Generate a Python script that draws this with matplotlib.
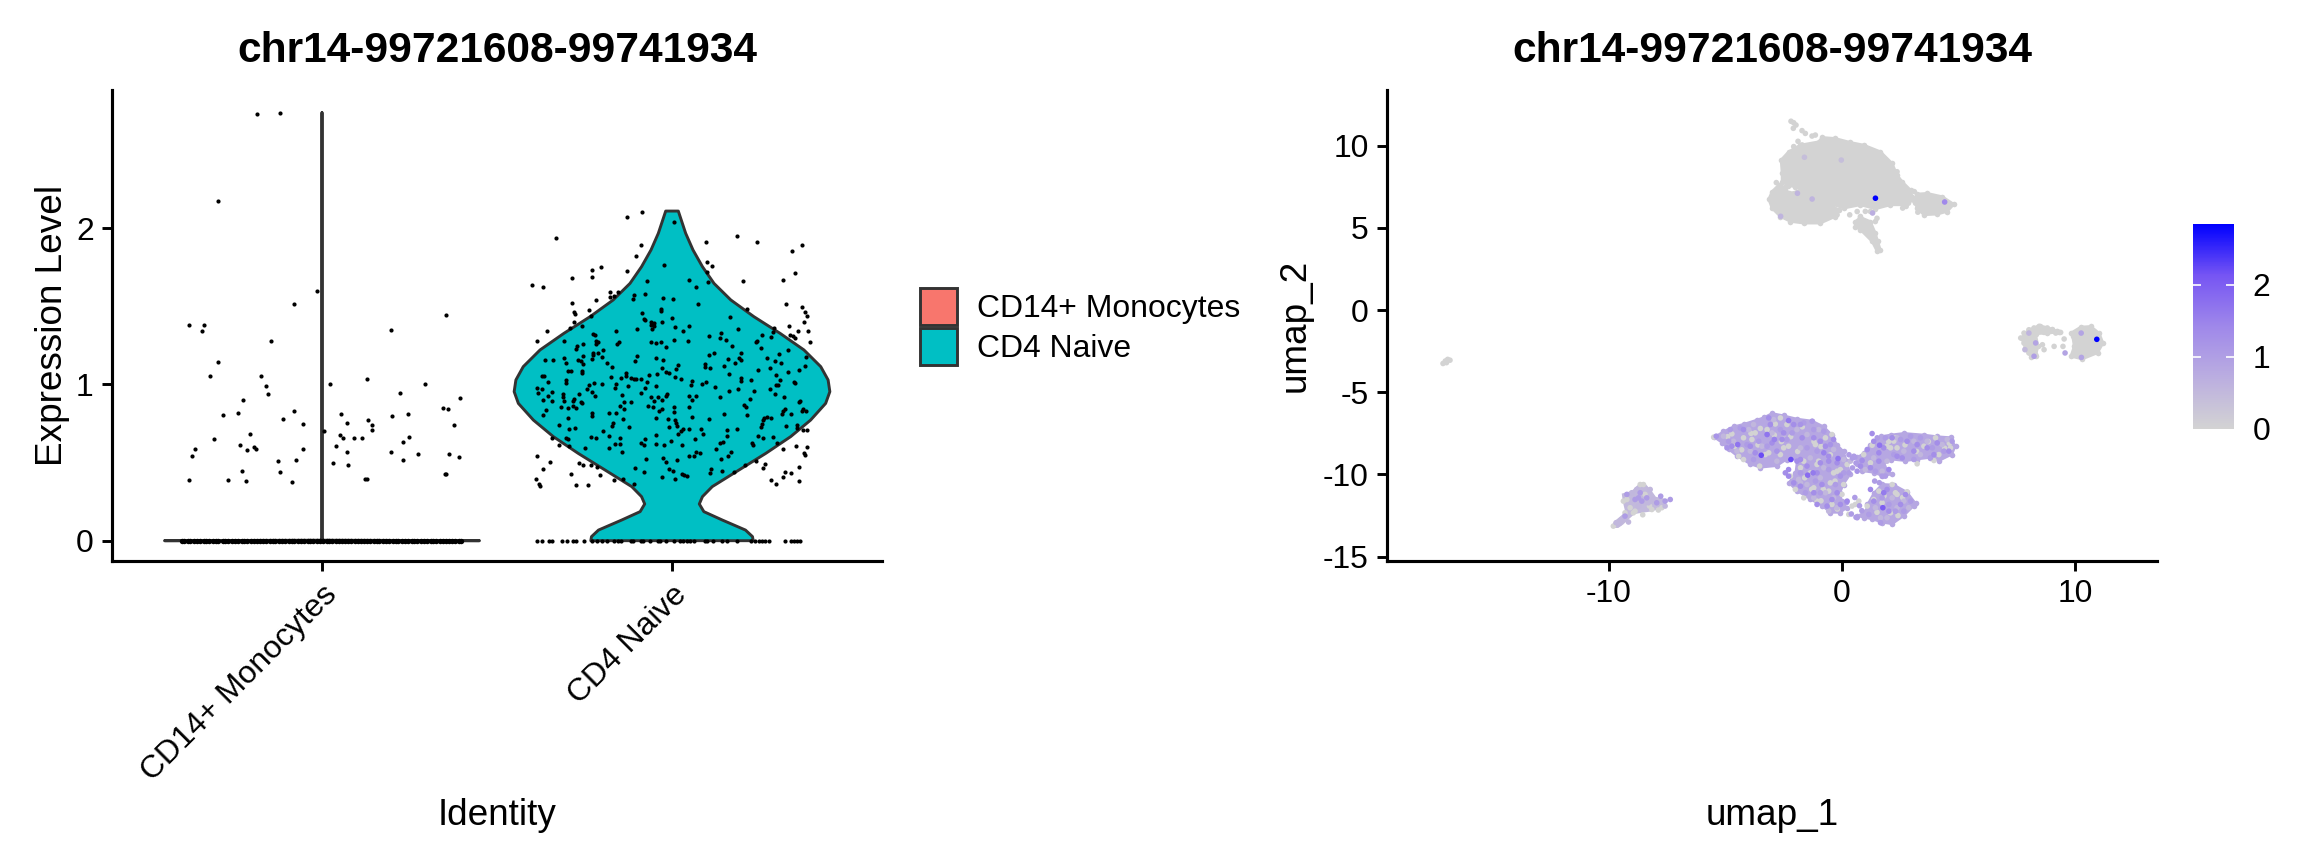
import numpy as np
import matplotlib
matplotlib.use("Agg")
import matplotlib.pyplot as plt
from matplotlib.colors import LinearSegmentedColormap
from matplotlib.cm import ScalarMappable
from matplotlib.colors import Normalize
from matplotlib.patches import Patch

plt.rcParams['font.family'] = ['Liberation Sans', 'DejaVu Sans']
plt.rcParams['axes.unicode_minus'] = False

feature = "chr14-99721608-99741934"
categories = ["CD14+ Monocytes", "CD4 Naive"]
fill_colors = ["#F8766D", "#00BFC4"]

# violin outlines: expression level, half width
mono_level = [0, 0.003, 2.74]
mono_width = [0.45, 0, 0]
naive_level = [0, 0.026, 0.068, 0.132, 0.186, 0.235, 0.282, 0.346, 0.452, 0.559, 0.666, 0.772, 0.879, 0.954, 1.029, 1.114, 1.221, 1.327, 1.434, 1.541, 1.647, 1.754, 1.861, 1.968, 2.11]
naive_width = [0.232, 0.230, 0.210, 0.144, 0.091, 0.078, 0.087, 0.115, 0.191, 0.268, 0.339, 0.396, 0.439, 0.451, 0.446, 0.425, 0.377, 0.309, 0.234, 0.168, 0.120, 0.087, 0.060, 0.039, 0.018]

# jittered cells
mono_jitter = [-.186, -.119, -.298, -.013, -.080, .355, -.379, -.337, -.342, .198, -.146, -.298, -.174, -.320, .129, .295, .022, -.161, -.153, .223, .394, -.225, .345, .359, -.240, -.282, -.080, .055, .245, .201, -.112, .132, .072, -.054, .376, .143, .143, .005, -.206, .050, .059, .092, .114, .248, -.309, .230, -.233, .039, -.193, -.188, -.213, -.364, -.054, .072, .196, -.371, .273, .364, .392, -.127, -.075, .230, .030, .075, -.228, -.119, .354, .350, .124, .129, -.379, -.270, -.216, -.086]
mono_expr = [2.730, 2.736, 2.173, 1.599, 1.518, 1.445, 1.379, 1.381, 1.345, 1.351, 1.279, 1.144, 1.054, 1.052, 1.035, 1.003, 1.003, .988, .937, .946, .916, .901, .850, .841, .818, .807, .828, .809, .809, .796, .779, .775, .753, .749, .741, .741, .709, .704, .685, .677, .660, .657, .657, .666, .649, .630, .615, .606, .602, .585, .581, .587, .589, .570, .566, .544, .557, .557, .534, .512, .517, .519, .495, .482, .448, .442, .427, .427, .395, .393, .388, .388, .380, .378]
mono_zero_jitter = [-.401, -.393, -.384, -.376, -.365, -.357, -.349, -.338, -.331, -.322, -.311, -.303, -.296, -.284, -.276, -.268, -.257, -.249, -.241, -.230, -.222, -.214, -.203, -.195, -.187, -.176, -.168, -.160, -.149, -.141, -.133, -.122, -.114, -.106, -.095, -.087, -.079, -.068, -.060, -.052, -.041, -.033, -.025, -.014, -.006, .002, .013, .021, .029, .040, .048, .056, .067, .075, .083, .094, .102, .110, .121, .129, .137, .148, .156, .164, .175, .183, .191, .202, .210, .218, .229, .237, .245, .256, .264, .272, .283, .291, .299, .310, .318, .326, .337, .345, .353, .364, .372, .380, .391, .398]

naive_jitter = [-.129, -.087, .007, -.331, -.088, .185, .242, .096, .370, .344, -.102, .101, .113, -.024, -.203, -.228, -.129, .101, .351, -.285, -.228, .317, -.071, .048, .103, .203, -.399, -.368, .068, -.178, -.154, -.109, -.078, -.177, -.166, -.112, -.025, .003, -.217, -.287, .327, .074, .370, .214, -.031, -.031, -.237, -.280, -.278, .380, .387, -.087, -.231, .166, 0, -.081, -.076, -.281, .377, -.059, -.052, -.030, -.258, -.292, -.059, -.051, -.057, -.099, .009, .050, .032, .188, .292, .335, .359, .388, -.357, .289, -.159, .139, -.226, -.221, .106, .137, .256, .282, .336, .345, .352, -.387, -.308, .154, .242, .239, .046, .005, -.016, -.061, -.045, -.032, -.151, -.156, .393, -.218, -.212, -.217, -.253, -.272, .171, .255, -.274, -.198, .331, -.211, -.226, -.226, -.200, -.253, .306, .197, .119, .106, -.100, .384, -.310, -.229, -.045, .271, .159, .192, .197, -.364, -.340, -.270, -.260, -.106, -.026, .294, .311, -.303, -.255, -.186, .180, .093, .094, .109, .148, .016, -.030, .380, -.171, .011, .246, .280, .330, .363, -.296, -.288, -.258, -.257, -.018, -.010, .164, .297, -.131, -.132, -.174, -.147, -.065, -.043, .009, -.372, -.365, -.116, -.110, -.103, -.089, -.071, .027, .056, -.304, -.354, -.304, .197, .198, .225, .348, .352, .308, .085, .098, .053, -.224, -.201, -.237, -.127, -.159, .298, .304, .123, -.046, .188, -.387, -.372, -.244, -.162, -.076, .280, -.382, -.343, -.266, -.228, -.143, -.088, -.220, -.013, -.018, .164, .233, .293, -.355, -.312, -.312, -.059, -.041, .048, .068, .137, .319, -.343, -.368, -.310, -.279, -.284, -.261, -.257, -.136, -.117, -.051, -.028, .057, .223, .366, .362, -.317, -.297, -.283, -.274, -.148, -.069, -.055, -.030, .005, .050, .207, .212, .322, .317, .373, -.361, -.136, -.036, .006, .372, .382, -.370, -.228, -.228, -.181, -.160, .215, .148, .313, .341, -.297, -.047, -.140, -.011, .010, .056, .105, .270, .284, .264, .261, .012, -.169, -.323, -.171, -.010, .014, .356, .325, .258, .254, -.124, -.294, -.277, .032, .026, .050, .082, .157, .186, .357, .373, .387, -.196, .017, .089, -.181, -.047, .157, .246, .288, -.343, -.304, -.298, -.231, -.218, -.149, -.078, .067, .261, .146, .136, .301, -.089, -.081, -.046, -.004, -.024, .030, .228, .232, -.324, -.293, -.162, -.149, -.180, -.248, .353, .385, .125, .318, -.143, .069, .080, .169, .376, .380, -.387, .049, .063, .161, -.073, -.026, -.018, .014, .139, -.349, -.267, -.254, -.231, -.214, .240, .208, .267, -.370, -.106, .261, .364, -.008, .003, -.081, .111, .109, .142, .178, .322, .339, .028, .035, .043, -.290, -.206, .318, -.030, -.390, -.167, -.140, .010, .283, .363, -.379, -.378, -.275, -.239, -.109, .298]
naive_expr = [2.074, 2.106, 2.038, 1.940, 1.895, 1.948, 1.914, 1.910, 1.895, 1.852, 1.825, 1.786, 1.756, 1.765, 1.752, 1.735, 1.724, 1.720, 1.711, 1.684, 1.686, 1.669, 1.662, 1.669, 1.658, 1.660, 1.637, 1.626, 1.622, 1.590, 1.592, 1.573, 1.579, 1.562, 1.566, 1.545, 1.556, 1.545, 1.543, 1.522, 1.517, 1.517, 1.496, 1.483, 1.485, 1.470, 1.477, 1.466, 1.449, 1.466, 1.440, 1.458, 1.440, 1.434, 1.425, 1.421, 1.413, 1.398, 1.400, 1.400, 1.396, 1.400, 1.372, 1.361, 1.383, 1.374, 1.357, 1.357, 1.370, 1.376, 1.344, 1.355, 1.364, 1.374, 1.342, 1.340, 1.342, 1.338, 1.340, 1.327, 1.325, 1.317, 1.310, 1.300, 1.315, 1.304, 1.317, 1.310, 1.295, 1.280, 1.280, 1.283, 1.280, 1.270, 1.280, 1.285, 1.242, 1.270, 1.265, 1.274, 1.272, 1.259, 1.274, 1.278, 1.274, 1.257, 1.259, 1.248, 1.248, 1.233, 1.225, 1.219, 1.219, 1.199, 1.199, 1.189, 1.178, 1.184, 1.197, 1.199, 1.199, 1.189, 1.182, 1.178, 1.169, 1.161, 1.167, 1.169, 1.163, 1.167, 1.159, 1.154, 1.154, 1.154, 1.152, 1.152, 1.154, 1.150, 1.140, 1.135, 1.131, 1.140, 1.135, 1.133, 1.114, 1.108, 1.116, 1.122, 1.108, 1.118, 1.114, 1.097, 1.095, 1.103, 1.080, 1.093, 1.086, 1.088, 1.084, 1.076, 1.080, 1.071, 1.069, 1.061, 1.073, 1.054, 1.048, 1.041, 1.058, 1.069, 1.050, 1.054, 1.054, 1.039, 1.035, 1.033, 1.037, 1.016, 1.033, 1.024, 1.031, 1.018, 1.009, 1.044, 1.024, 1.029, 1.016, 1.007, 1.031, 1.005, 1.018, .999, 1.007, 1.005, .999, .992, 1.001, .994, .997, .984, .992, .973, .975, .973, .971, .975, .977, .971, .945, .954, .941, .950, .935, .945, .928, .937, .924, .956, .956, .941, .926, .939, .918, .922, .918, .926, .928, .920, .922, .896, .898, .892, .907, .892, .886, .883, .888, .886, .896, .901, .901, .907, .896, .886, .858, .849, .862, .851, .864, .860, .856, .841, .856, .856, .869, .856, .843, .832, .845, .837, .841, .830, .824, .832, .828, .807, .819, .800, .817, .815, .807, .811, .809, .809, .787, .785, .779, .777, .772, .790, .781, .794, .783, .787, .770, .755, .755, .743, .734, .730, .736, .743, .736, .745, .726, .726, .715, .723, .717, .704, .713, .713, .706, .717, .719, .708, .708, .704, .683, .685, .670, .674, .672, .670, .664, .657, .657, .653, .662, .655, .655, .653, .649, .659, .634, .625, .627, .625, .615, .619, .636, .610, .610, .623, .615, .615, .608, .617, .621, .595, .593, .606, .600, .585, .587, .570, .568, .563, .568, .563, .548, .540, .542, .542, .540, .521, .529, .506, .519, .521, .504, .497, .484, .482, .474, .510, .487, .493, .461, .467, .465, .472, .457, .444, .442, .457, .435, .444, .437, .440, .433, .427, .420, .416, .425, .418, .410, .405, .395, .388, .393, .395, .386, .380, .365, .350, .354, .356, .363, .361]
naive_zero_jitter = [-.386, -.372, -.352, -.343, -.313, -.300, -.283, -.273, -.252, -.228, -.215, -.199, -.186, -.167, -.153, -.146, -.118, -.111, -.089, -.082, -.062, -.039, -.033, -.017, .007, .023, .031, .042, .051, .062, .094, .099, .118, .144, .156, .186, .226, .237, .248, .258, .267, .278, .322, .339, .348, .356, .367]

# umap silhouettes of the dense regions (x, y)
grey_upper_x = [-2.615, -2.286, -1.785, -0.999, -0.856, -0.283, 0.361, 0.933, 1.648, 2.149, 2.363, 2.578, 2.936, 3.007, 2.650, 2.077, 1.433, 0.790, 0.074, -0.569, -1.213, -1.571, -1.75, -2.0, -2.3, -2.572, -2.572]
grey_upper_y = [9.126, 9.632, 10.036, 10.238, 10.501, 10.440, 10.197, 10.036, 9.632, 8.923, 8.215, 7.810, 7.304, 6.859, 6.393, 6.393, 6.150, 6.393, 6.191, 6.494, 6.8, 7.0, 7.3, 7.5, 7.55, 7.810, 8.316]
grey_lower_x = [-3.144, -3.001, -2.715, -2.429, -2.286, -1.928, -1.642, -1.142, -0.498, -0.140, -0.283, -0.927, -1.642, -2.215, -2.644, -3.001]
grey_lower_y = [6.738, 7.203, 7.608, 7.466, 7.102, 7.204, 7.000, 6.859, 6.393, 6.090, 5.685, 5.280, 5.280, 5.382, 5.685, 6.191]
grey_arm_x = [3.222, 3.651, 4.295, 4.796, 4.510, 4.080, 3.508, 3.222, 3.079]
grey_arm_y = [7.061, 7.102, 6.899, 6.434, 5.989, 5.827, 5.786, 6.191, 6.697]
grey_tail_x = [.575, .790, 1.219, 1.433, 1.534, 1.648, 1.505, 1.290, .790, .575]
grey_tail_y = [5.382, 5.645, 5.382, 4.674, 4.168, 3.662, 3.561, 4.168, 4.877, 5.078]
grey_right_x = [9.803, 10.232, 10.661, 11.02, 11.19, 10.95, 10.30, 9.80, 9.95, 9.88]
grey_right_y = [-1.40, -1.03, -0.99, -1.40, -2.01, -2.61, -2.98, -2.82, -2.21, -1.60]
grey_arc_x = [7.7, 8.0, 8.5, 9.0, 9.3, 8.8, 8.3, 8.4, 8.3, 8.1, 7.85]
grey_arc_y = [-1.7, -1.2, -.95, -1.15, -1.35, -1.4, -1.45, -2.2, -2.8, -2.85, -2.3]

purple_a_x = [-5.50, -5.08, -4.65, -4.22, -3.65, -3.36, -3.00, -2.50, -1.93, -1.28, -.78, -.43, -.21, .07, .22, .36, .07, -.07, 0, .22, -.07, -.50, -.85, -1.36, -1.93, -2.29, -2.00, -1.93, -2.36, -2.79, -3.50, -3.93, -4.50, -4.86, -5.15]
purple_a_y = [-7.73, -7.37, -7.07, -6.92, -6.66, -6.52, -6.26, -6.40, -6.60, -6.72, -7.07, -7.57, -8.18, -8.58, -9.19, -10.00, -10.61, -11.11, -11.62, -12.02, -12.33, -12.33, -11.92, -11.52, -11.01, -10.51, -9.90, -9.09, -9.09, -9.49, -9.59, -9.39, -8.89, -8.48, -8.08]
purple_b_x = [.65, .93, 1.22, 1.65, 2.08, 2.65, 3.51, 4.08, 4.65, 4.87, 4.72, 4.15, 3.79, 3.22, 2.72, 2.08, 1.79, 1.93, 2.15, 1.72, 1.36, .86, .65]
purple_b_y = [-8.95, -8.68, -8.18, -7.67, -7.57, -7.47, -7.57, -7.67, -7.73, -8.28, -8.79, -9.19, -8.99, -9.09, -9.19, -9.09, -9.19, -9.70, -10.00, -10.10, -9.90, -9.80, -9.39]
purple_c_x = [1.08, 1.36, 1.72, 2.22, 2.79, 3.15, 3.08, 2.65, 2.15, 1.72, 1.29, .93, .65, 1.01]
purple_c_y = [-11.82, -11.11, -10.57, -10.61, -11.05, -11.72, -11.92, -12.53, -13.03, -12.93, -12.73, -12.63, -12.53, -12.23]
purple_d_x = [-9.85, -9.75, -9.45, -9.25, -9.35, -9.4, -9.0, -8.75, -8.45, -8.2, -8.0, -7.5, -7.7, -8.2, -8.9, -9.1, -9.4, -9.6]
purple_d_y = [-13.2, -12.9, -12.55, -12.3, -11.7, -11.2, -11.05, -10.7, -10.6, -11.0, -11.4, -11.55, -12.0, -12.2, -12.35, -12.6, -13.0, -13.2]

# single cells, zero expression
zero_x = [-2.186, -2.072, -1.971, -2.086, -1.714, -1.571, -1.285, -1.142, -1.885, -2.07, -1.71, -2.815, -.21, .33, 1.50, 1.43, 3.25, 2.68, 2.79, 2.36,
          .65, .79, 1.22, 1.0, 2.9, 3.0, 3.1, 3.15, 2.75, 2.6, 2.85,
          7.66, 7.80, 8.01, 8.45, 8.80, 9.16, 9.37, 7.80, 7.91, 8.16, 8.30, 8.37, 8.16, 8.01, 8.23, 8.66, 8.59, 8.66, 9.09, 9.47, 9.52, 8.37, 8.23, 8.94, 7.80, 8.01, 7.87, 8.16, 8.01, 8.80, 9.23, 8.52,
          -17.1, -17.0, -16.9, -16.8, -16.95,
          -9.80, -9.30, -9.08, -8.87, -8.65, -8.51, -8.54, -8.94, -8.15, -7.87, -8.44, -8.25, -9.22, -9.37, -7.72,
          -5.50, -4.72, -4.22, -3.72, -3.86, -3.21, -2.64, -2.86, -2.36, -3.14, -3.29, -3.53, -4.43, -4.22, -2.50, -2.29, -1.64, -.43, -.71, -1.14, -1.00, -1.07, -.21, -.07, -2.21, -2.00, -1.64, -1.07, -.43, .07, 0, .93, 1.29, 1.22, .22, .57, .72, .43, .29, 1.08, 1.58, 1.36, 2.15, 2.29, -2.64, -1.78, -1.36, -.50, -.36, -1.21, -.57, 1.93, 2.36, 2.22, 2.08, 2.29, 3.51, 4.01, 4.65, 4.15, 3.22, 3.94, 2.36, 2.79, 1.72, 2.08,
          -4.9, -4.3, -3.6, -3.5, -2.9, -2.2, -1.7, -1.2, -.9, -2.6, -3.9, -4.6, -1.9, -.5, -.3, -1.6, -.8, -1.3, -.2, -.9, 2.6, 2.4, 1.5, 1.8, 2.7, 3.2, 2.0, 4.4, 3.7, 4.6]
zero_y = [11.48, 11.39, 11.25, 11.05, 10.91, 10.74, 10.58, 10.64, 10.26, 9.94, 10.04, 7.75, 5.79, 5.79, 5.58, 5.38, 5.95, 6.39, 6.70, 8.41,
          5.99, 5.69, 5.99, 6.0, 7.0, 6.7, 7.2, 6.5, 6.3, 6.2, 6.5,
          -1.70, -1.40, -1.20, -.99, -1.09, -1.40, -1.36, -2.01, -2.41, -2.82, -2.71, -2.21, -1.90, -1.60, -1.40, -1.36, -2.11, -2.41, -2.21, -2.21, -1.76, -1.09, -1.09, -1.30, -1.70, -2.11, -1.80, -2.31, -2.61, -1.36, -1.30, -1.20,
          -3.25, -3.1, -3.0, -3.05, -3.2,
          -13.14, -12.33, -12.02, -12.23, -10.61, -10.61, -12.45, -12.33, -12.13, -12.16, -11.21, -11.92, -11.52, -11.62, -12.02,
          -7.73, -7.53, -7.77, -7.47, -7.87, -7.27, -6.56, -6.93, -6.96, -8.68, -8.79, -9.49, -8.89, -9.09, -8.38, -8.28, -9.19, -7.57, -7.77, -8.18, -9.19, -9.39, -9.80, -9.70, -10.10, -10.91, -11.42, -11.62, -11.82, -10.61, -11.21, -8.79, -8.22, -9.29, -9.39, -11.82, -11.62, -11.92, -12.43, -11.92, -11.01, -11.52, -10.61, -11.11, -8.79, -9.59, -9.90, -10.51, -9.90, -10.81, -11.01, -8.28, -8.38, -7.97, -8.38, -7.77, -8.28, -7.77, -8.38, -8.79, -9.35, -9.15, -11.21, -11.05, -11.72, -12.33,
          -7.7, -8.5, -8.2, -7.2, -7.6, -7.7, -7.1, -8.0, -8.3, -8.0, -7.5, -8.3, -8.6, -8.8, -10.4, -10.2, -10.9, -10.9, -12.1, -11.6, -11.4, -12.5, -12.3, -11.3, -8.2, -8.6, -8.0, -8.4, -8.0, -8.1]

# single cells, expressing
low_x = [-5.08, -4.65, -4.00, -3.43, -3.00, -2.50, -1.93, -1.50, -1.00, -1.78, -2.93, -3.93, -4.50, -3.79, -2.79, -1.36, -1.86, -1.50, -.93, -.71, -.36, -.21, -.57, -1.78, -1.21, -.78, .07, .36, -.36, 1.36, 1.72, 1.93, 2.36, 2.65, 3.08, 3.65, 4.29, 4.51, 3.36, 1.43, 1.93, 2.36, 2.65, 2.86, 1.65, 2.15, 1.00,
         -9.68, -9.54, -9.44, -9.15, -9.01, -8.80, -8.72, -8.58, -8.30, -8.08, -7.58, -8.22]
low_y = [-7.67, -7.98, -7.27, -8.28, -7.47, -7.77, -7.27, -7.57, -7.27, -8.38, -6.66, -8.58, -8.58, -6.96, -9.19, -8.99, -10.30, -10.61, -10.20, -11.11, -11.42, -12.02, -12.23, -10.51, -11.42, -9.59, -9.09, -9.19, -8.48, -8.99, -9.80, -9.19, -7.77, -8.58, -7.98, -7.98, -8.18, -7.87, -8.79, -12.02, -12.63, -12.02, -11.62, -12.02, -12.63, -11.42, -9.70,
         -12.93, -12.98, -12.73, -12.89, -11.11, -10.91, -11.92, -11.62, -11.72, -11.52, -11.92, -10.91]
mid_x = [-4.79, -4.36, -4.86, -4.07, -3.57, -3.21, -2.64, -2.14, -1.64, -1.21, -.78, -2.36, -3.79, -1.50, -1.07, -1.78, -1.14, -.57, -.28, -.93, -1.57, .07, .51, 1.51, 1.86, 2.22, 2.51, 2.94, 3.36, 3.87, 4.37, 4.72, 3.08, 3.79, 1.43, 1.72, 1.86, 2.29, 2.01, 2.65, 1.72, 2.94, 1.15, .65, 1.65,
         -9.30, -9.22, -8.87, -8.65, -8.72, -8.37, -8.58, -7.94, -7.58, -7.36, -7.77,
         .3, .45, .55, .6, .45, .3, .55, .75, .85, .4, .6, .2, 1.4, 1.6]
mid_y = [-7.27, -7.17, -7.98, -8.18, -7.98, -8.28, -7.27, -7.47, -6.86, -7.27, -7.37, -7.87, -9.09, -8.38, -8.58, -9.90, -10.40, -9.70, -10.61, -11.11, -11.11, -9.90, -8.89, -7.77, -7.77, -8.79, -7.87, -7.67, -7.77, -8.38, -8.58, -7.98, -9.09, -8.99, -9.80, -10.10, -10.10, -12.23, -11.82, -12.23, -11.42, -11.62, -12.43, -12.63, -12.93,
         -12.53, -11.21, -11.52, -11.11, -11.42, -11.42, -11.62, -11.72, -11.62, -11.52, -11.32,
         -8.8, -9.0, -8.95, -9.3, -9.6, -9.9, -11.4, -11.9, -12.2, -12.4, -12.6, -11.7, -10.4, -10.5]
deep_x = [-4.22, -4.72, -3.93, -3.72, -3.00, -2.57, -3.07, -3.14, -2.07, -2.50, -1.71, -.93, -.36, -1.21, -.71, -1.78, -1.50, -.93, -.57, -.21, -1.07, -.86, -1.21, -1.78, -2.07, -.21, -.43, -1.07, -.64, -.07, 1.36, 1.79, 2.15, .79, 1.22, 1.58, 2.36, 1.36, 1.93, 2.01, 2.79, 3.22, 3.65, 4.08, 4.58, 3.94, 3.08, 2.58, 2.51, 2.72]
deep_y = [-7.27, -8.28, -8.28, -8.68, -8.08, -7.87, -6.96, -6.56, -6.96, -7.47, -7.77, -7.98, -7.87, -7.77, -8.28, -9.09, -9.49, -9.29, -9.19, -9.29, -9.90, -10.61, -11.11, -10.71, -10.51, -11.11, -11.52, -11.82, -11.92, -11.82, -7.98, -8.38, -7.77, -9.49, -9.59, -9.19, -8.89, -11.62, -10.91, -12.23, -7.98, -8.18, -8.38, -8.08, -8.58, -8.79, -8.58, -8.99, -11.82, -11.22]
high_x = [-3.46, -2.19, -4.47, -3.21, -2.90, -1.47, -1.24, -.78, -.17, -2.29, 1.61, 1.75, 1.79, 1.22, 2.01, 1.58, 1.08, .22, -2.29, -2.43, -2.29, 1.29, .65, .86, -1.93, -5.39, -4.93, -.57, -2.79, -.50, -1.78, -1.28, -.07,
          1.433, 4.40, 1.31, -1.61, -.03, -1.28, -1.91, -2.63, 10.25, 8.30, 8.23, 9.56, 10.26, 8.01, 7.84, 10.92]
high_y = [-8.83, -9.09, -8.18, -7.57, -7.87, -10.04, -9.90, -8.68, -9.03, -6.72, -8.22, -12.02, -11.11, -10.91, -9.70, -8.68, -8.48, -11.62, -9.70, -9.90, -10.10, -7.51, -9.80, -9.15, -9.19, -7.67, -8.38, -8.89, -8.58, -8.18, -6.96, -6.76, -10.10,
          6.80, 6.57, 5.90, 9.29, 9.12, 6.75, 7.10, 5.70, -1.40, -2.00, -2.81, -2.61, -2.88, -1.40, -2.41, -1.78]
high_val = [2.2, 2.2, 1.7, 1.7, 1.5, 1.8, 1.6, 1.5, 1.7, 1.6, 1.7, 2.0, 1.6, 1.4, 1.4, 1.4, 1.3, 1.4, 1.4, 1.3, 1.4, 1.3, 1.2, 1.3, 1.3, 1.2, 1.2, 1.3, 1.2, 1.2, 1.2, 1.1, 1.2,
            2.84, 1.4, .7, .4, .4, .6, .6, .6, .9, .9, 1.0, .9, .9, .6, .5, 2.84]
low_val = 0.55
mid_val = 1.05
deep_val = 1.3
expr_max = 2.84

grey_cmap = LinearSegmentedColormap.from_list("grey_blue", [(0, "#D3D3D3"), (.25, "#BBAEE0"), (.5, "#9F88EA"), (.75, "#7655F3"), (1, "#0000FF")])
norm = Normalize(0, expr_max)

W, H = 2304, 865
fig = plt.figure(figsize=(W / 300, H / 300), dpi=300, facecolor="white")


def make_axes(left, right, top, bottom):
    return fig.add_axes([left / W, 1 - bottom / H, (right - left) / W, (bottom - top) / H])


def style_axes(ax):
    ax.spines[['top', 'right']].set_visible(False)
    ax.spines[['left', 'bottom']].set_linewidth(0.75)
    ax.tick_params(length=2.4, width=0.7, labelsize=7.65, pad=2)
    ax.set_title(feature, fontsize=10.2, fontweight='bold', pad=6.7)


def draw_violin(ax, center, level, width, color):
    level = np.array(level)
    width = np.array(width)
    xs = np.r_[center - width, (center + width)[::-1]]
    ys = np.r_[level, level[::-1]]
    ax.fill(xs, ys, facecolor=color, edgecolor="#333333", linewidth=0.7, joinstyle='round', zorder=2)


# left panel
ax = make_axes(112, 882, 90, 561)
style_axes(ax)
draw_violin(ax, 1, mono_level, mono_width, fill_colors[0])
draw_violin(ax, 2, naive_level, naive_width, fill_colors[1])
ax.scatter(1 + np.array(mono_jitter), mono_expr, s=1.0, c='black', linewidths=0, zorder=3)
ax.scatter(1 + np.array(mono_zero_jitter), np.zeros(len(mono_zero_jitter)), s=1.7, c='black', linewidths=0, zorder=3)
ax.scatter(2 + np.array(naive_jitter), naive_expr, s=1.0, c='black', linewidths=0, zorder=3)
ax.scatter(2 + np.array(naive_zero_jitter), np.zeros(len(naive_zero_jitter)), s=1.0, c='black', linewidths=0, zorder=3)
ax.set_xlim(0.4, 2.6)
ax.set_ylim(-0.13, 2.885)
ax.set_yticks([0, 1, 2])
ax.set_xticks([1, 2])
ax.set_xticklabels(categories, rotation=45, ha='right', va='top', rotation_mode='anchor')
ax.set_ylabel("Expression Level", fontsize=8.85)
ax.set_xlabel("Identity", fontsize=8.85)
ax.yaxis.set_label_coords(-0.054, 0.5)
ax.xaxis.set_label_coords(0.5, -0.504)

handles = [Patch(facecolor=c, edgecolor="#333333", linewidth=0.7) for c in fill_colors]
fig.legend(handles, categories, loc='upper left', bbox_to_anchor=(920 / W, 1 - 288 / H), frameon=False,
           fontsize=7.65, handlelength=1.17, handleheight=1.42, labelspacing=0.08, handletextpad=0.63,
           borderpad=0, borderaxespad=0)

# right panel
ax2 = make_axes(1387, 2157, 90, 561)
style_axes(ax2)
grey = grey_cmap(0.0)
for px, py in [(grey_upper_x, grey_upper_y), (grey_lower_x, grey_lower_y), (grey_arm_x, grey_arm_y),
               (grey_tail_x, grey_tail_y), (grey_right_x, grey_right_y), (grey_arc_x, grey_arc_y)]:
    ax2.fill(px, py, facecolor=grey, edgecolor=grey, linewidth=0.6, zorder=1)
    ax2.scatter(px, py, s=1.8, color=grey, linewidths=0, zorder=1)
patch_color = grey_cmap(norm(0.85))
for px, py in [(purple_a_x, purple_a_y), (purple_b_x, purple_b_y), (purple_c_x, purple_c_y)]:
    ax2.fill(px, py, facecolor=patch_color, edgecolor=patch_color, linewidth=0.4, zorder=1)
    ax2.scatter(px, py, s=1.8, color=patch_color, linewidths=0, zorder=1)
pale_color = grey_cmap(norm(0.5))
ax2.fill(purple_d_x, purple_d_y, facecolor=pale_color, edgecolor=pale_color, linewidth=0.4, zorder=1)
ax2.scatter(zero_x, zero_y, s=1.8, c=np.zeros(len(zero_x)), cmap=grey_cmap, norm=norm, linewidths=0, zorder=2)
ax2.scatter(low_x, low_y, s=1.8, c=np.full(len(low_x), low_val), cmap=grey_cmap, norm=norm, linewidths=0, zorder=3)
ax2.scatter(mid_x, mid_y, s=1.8, c=np.full(len(mid_x), mid_val), cmap=grey_cmap, norm=norm, linewidths=0, zorder=3)
ax2.scatter(deep_x, deep_y, s=1.8, c=np.full(len(deep_x), deep_val), cmap=grey_cmap, norm=norm, linewidths=0, zorder=3)
ax2.scatter(high_x, high_y, s=1.8, c=high_val, cmap=grey_cmap, norm=norm, linewidths=0, zorder=4)
ax2.set_xlim(-19.5, 13.5)
ax2.set_ylim(-15.26, 13.38)
ax2.set_xticks([-10, 0, 10])
ax2.set_yticks([-15, -10, -5, 0, 5, 10])
ax2.set_xlabel("umap_1", fontsize=8.85)
ax2.set_ylabel("umap_2", fontsize=8.85)
ax2.yaxis.set_label_coords(-0.097, 0.5)
ax2.xaxis.set_label_coords(0.5, -0.504)

# colorbar
cax = make_axes(2193, 2234, 224, 429)
cb = fig.colorbar(ScalarMappable(norm=norm, cmap=grey_cmap), cax=cax, ticks=[0, 1, 2])
cb.outline.set_visible(False)
cb.ax.tick_params(length=0, labelsize=7.65, pad=4.5)
for tick in [1, 2]:
    cax.hlines(tick, 0, 0.2, color='white', linewidth=0.4)
    cax.hlines(tick, 0.8, 1, color='white', linewidth=0.4)

fig.savefig("out.png", dpi=300, facecolor="white")
